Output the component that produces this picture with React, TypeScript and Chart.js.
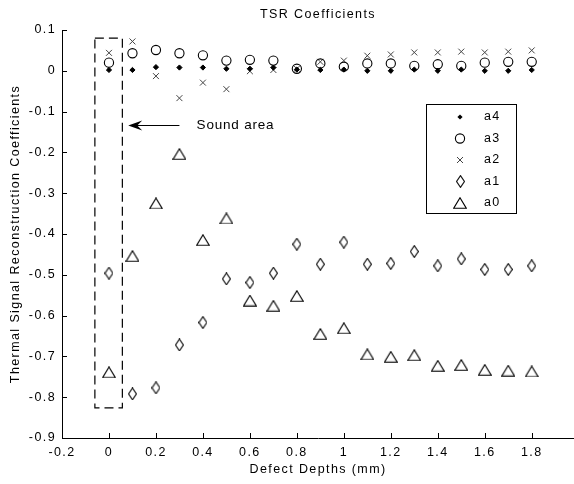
import React, { useEffect, useRef } from 'react';
import { Chart, registerables } from 'chart.js';

Chart.register(...registerables);

// ---------------- data ----------------
const depths = [0, 0.1, 0.2, 0.3, 0.4, 0.5, 0.6, 0.7, 0.8, 0.9, 1.0, 1.1, 1.2, 1.3, 1.4, 1.5, 1.6, 1.7, 1.8];
const a4 = [0.002, 0.002, 0.009, 0.008, 0.008, 0.005, 0.005, 0.008, 0.003, 0.002, 0.003, 0.0, 0.0, 0.003, 0.0, 0.003, 0.0, 0.0, 0.002];
const a3 = [0.02, 0.043, 0.051, 0.043, 0.038, 0.025, 0.027, 0.025, 0.005, 0.018, 0.01, 0.018, 0.018, 0.012, 0.016, 0.012, 0.02, 0.022, 0.022];
const a2 = [0.044, 0.072, -0.013, -0.067, -0.029, -0.045, -0.001, 0.002, 0.005, 0.022, 0.025, 0.037, 0.04, 0.045, 0.045, 0.047, 0.045, 0.047, 0.05];
const a1 = [-0.496, -0.792, -0.777, -0.672, -0.617, -0.51, -0.519, -0.496, -0.425, -0.474, -0.42, -0.474, -0.472, -0.443, -0.478, -0.461, -0.487, -0.487, -0.478];
const a0 = [-0.739, -0.454, -0.325, -0.204, -0.415, -0.362, -0.563, -0.576, -0.552, -0.645, -0.631, -0.695, -0.701, -0.697, -0.723, -0.721, -0.733, -0.735, -0.737];
const seriesLabels = ['a4', 'a3', 'a2', 'a1', 'a0'];
const xTickValues = [-0.2, 0, 0.2, 0.4, 0.6, 0.8, 1.0, 1.2, 1.4, 1.6, 1.8];
const yTickValues = [0.1, 0, -0.1, -0.2, -0.3, -0.4, -0.5, -0.6, -0.7, -0.8, -0.9];
const xRange = [-0.2, 1.98];
const yRange = [-0.9, 0.1];
const chartTitle = 'TSR Coefficients';
const xTitle = 'Defect Depths (mm)';
const yTitle = 'Thermal Signal Reconstruction Coefficients';
// annotation (data coordinates)
const soundBoxX = [-0.06, 0.057];
const soundBoxY = [0.08, -0.826];
const arrowX = [0.30, 0.082];
const arrowY = -0.133;
const noteText = 'Sound area';
const noteX = 0.373;

const FONT = '"Liberation Sans", Arial, Helvetica, sans-serif';
const FS = 12.5;
const SPACING = '1.4px';

function makeMarker(w: number, h: number, draw: (c: CanvasRenderingContext2D) => void) {
  const c = document.createElement('canvas');
  c.width = w;
  c.height = h;
  const ctx = c.getContext('2d')!;
  draw(ctx);
  return c;
}

const tallDiamond = makeMarker(9, 13, (c) => {
  c.strokeStyle = '#1a1a1a';
  c.lineWidth = 1.15;
  c.beginPath();
  c.moveTo(4.5, 0.6);
  c.lineTo(8.4, 6.5);
  c.lineTo(4.5, 12.4);
  c.lineTo(0.6, 6.5);
  c.closePath();
  c.stroke();
});

const triMarker = makeMarker(14, 12, (c) => {
  c.strokeStyle = '#000';
  c.lineWidth = 1.15;
  c.beginPath();
  c.moveTo(7, 0.8);
  c.lineTo(13.3, 11.2);
  c.lineTo(0.7, 11.2);
  c.closePath();
  c.stroke();
});

const spacingPlugin = {
  id: 'spacing',
  beforeUpdate(chart: any) {
    chart.ctx.letterSpacing = SPACING;
  },
  beforeDraw(chart: any) {
    chart.ctx.letterSpacing = SPACING;
  },
};

const annotationPlugin = {
  id: 'annot',
  afterDraw(chart: any) {
    const { ctx, chartArea } = chart;
    const xs = chart.scales.x;
    const ys = chart.scales.y;
    ctx.save();
    ctx.strokeStyle = '#000';
    ctx.fillStyle = '#000';
    ctx.lineWidth = 1;
    // inward ticks
    ctx.beginPath();
    xTickValues.forEach((v) => {
      const px = Math.round(xs.getPixelForValue(v)) + 0.5;
      ctx.moveTo(px, chartArea.bottom);
      ctx.lineTo(px, chartArea.bottom - 5);
    });
    yTickValues.forEach((v) => {
      const py = Math.round(ys.getPixelForValue(v)) + 0.5;
      ctx.moveTo(chartArea.left, py);
      ctx.lineTo(chartArea.left + 5, py);
    });
    ctx.stroke();

    // dashed "sound area" box
    const bx0 = xs.getPixelForValue(soundBoxX[0]);
    const bx1 = xs.getPixelForValue(soundBoxX[1]);
    const by0 = ys.getPixelForValue(soundBoxY[0]);
    const by1 = ys.getPixelForValue(soundBoxY[1]);
    ctx.setLineDash([9, 5]);
    ctx.lineWidth = 1.2;
    ctx.strokeRect(bx0, by0, bx1 - bx0, by1 - by0);
    ctx.setLineDash([]);

    // arrow
    const ax0 = xs.getPixelForValue(arrowX[0]);
    const ax1 = xs.getPixelForValue(arrowX[1]);
    const ay = Math.round(ys.getPixelForValue(arrowY)) + 0.5;
    ctx.lineWidth = 1;
    ctx.beginPath();
    ctx.moveTo(ax0, ay);
    ctx.lineTo(ax1 + 6, ay);
    ctx.stroke();
    ctx.beginPath();
    ctx.moveTo(ax1, ay);
    ctx.lineTo(ax1 + 14, ay - 5);
    ctx.lineTo(ax1 + 9, ay);
    ctx.lineTo(ax1 + 14, ay + 5);
    ctx.closePath();
    ctx.fill();

    // note text
    ctx.save();
    ctx.letterSpacing = '0.8px';
    ctx.font = `13.5px ${FONT}`;
    ctx.textAlign = 'left';
    ctx.textBaseline = 'middle';
    ctx.fillText(noteText, xs.getPixelForValue(noteX), ay);
    ctx.restore();

    // legend
    const boxW = 90;
    const boxH = 109;
    const left = chartArea.left + 364;
    const top = chartArea.top + 74;
    ctx.lineWidth = 1;
    ctx.strokeStyle = '#000';
    ctx.strokeRect(Math.round(left) + 0.5, Math.round(top) + 0.5, boxW, boxH);
    ctx.font = `${FS}px ${FONT}`;
    ctx.textAlign = 'left';
    ctx.textBaseline = 'middle';
    seriesLabels.forEach((lab, i) => {
      const cy = top + 13 + i * 21.5;
      const mx = left + 34;
      ctx.save();
      if (i === 0) {
        ctx.fillStyle = '#000';
        ctx.beginPath();
        ctx.moveTo(mx, cy - 2.6);
        ctx.lineTo(mx + 2.6, cy);
        ctx.lineTo(mx, cy + 2.6);
        ctx.lineTo(mx - 2.6, cy);
        ctx.closePath();
        ctx.fill();
      } else if (i === 1) {
        ctx.strokeStyle = '#000';
        ctx.lineWidth = 1.1;
        ctx.beginPath();
        ctx.arc(mx, cy, 4.6, 0, Math.PI * 2);
        ctx.stroke();
      } else if (i === 2) {
        ctx.strokeStyle = '#444';
        ctx.beginPath();
        ctx.moveTo(mx - 3, cy - 3);
        ctx.lineTo(mx + 3, cy + 3);
        ctx.moveTo(mx + 3, cy - 3);
        ctx.lineTo(mx - 3, cy + 3);
        ctx.stroke();
      } else if (i === 3) {
        ctx.drawImage(tallDiamond, Math.round(mx - tallDiamond.width / 2), Math.round(cy - tallDiamond.height / 2));
      } else {
        ctx.drawImage(triMarker, Math.round(mx - triMarker.width / 2), Math.round(cy - triMarker.height / 2));
      }
      ctx.restore();
      ctx.fillStyle = '#000';
      ctx.fillText(lab, left + 58, cy);
    });
    ctx.restore();
  },
};

function pts(ys: number[]) {
  return depths.map((x, i) => ({ x, y: ys[i] }));
}

const fmt = (v: any) => String(Math.round(Number(v) * 10) / 10);

export default function App() {
  const ref = useRef<HTMLCanvasElement | null>(null);
  useEffect(() => {
    if (!ref.current) return;
    const chart = new Chart(ref.current, {
      type: 'scatter',
      data: {
        datasets: [
          { label: seriesLabels[0], data: pts(a4), pointStyle: 'rectRot', pointRadius: 2.6, backgroundColor: '#000', borderColor: '#000', borderWidth: 1 },
          { label: seriesLabels[1], data: pts(a3), pointStyle: 'circle', pointRadius: 4.6, backgroundColor: 'rgba(0,0,0,0)', borderColor: '#000', borderWidth: 1.1 },
          { label: seriesLabels[2], data: pts(a2), pointStyle: 'crossRot', pointRadius: 4.2, backgroundColor: '#444', borderColor: '#444', borderWidth: 1 },
          { label: seriesLabels[3], data: pts(a1), pointStyle: tallDiamond as any, pointRadius: 6, borderColor: '#222' },
          { label: seriesLabels[4], data: pts(a0), pointStyle: triMarker as any, pointRadius: 7, borderColor: '#000' },
        ] as any,
      },
      options: {
        animation: false,
        responsive: false,
        devicePixelRatio: 1,
        clip: false as any,
        layout: { autoPadding: false, padding: { left: 0, right: 0, top: 0, bottom: 0 } },
        plugins: {
          legend: { display: false },
          tooltip: { enabled: false },
          title: {
            display: true,
            text: chartTitle,
            fullSize: false,
            color: '#000',
            font: { family: FONT, size: FS, weight: 'normal', lineHeight: 1.2 },
            padding: { top: 7.5, bottom: 7.5 },
          },
        },
        scales: {
          x: {
            type: 'linear',
            min: xRange[0],
            max: xRange[1],
            afterBuildTicks: (s: any) => {
              s.ticks = xTickValues.map((v) => ({ value: v }));
            },
            afterFit: (s: any) => {
              s.height = 46;
              s.paddingLeft = 0;
              s.paddingRight = 0;
            },
            grid: { display: false, drawTicks: false },
            border: { display: true, color: '#000', width: 1 },
            ticks: {
              color: '#000',
              padding: 7,
              maxRotation: 0,
              autoSkip: false,
              font: { family: FONT, size: FS, lineHeight: 1.2 },
              callback: fmt,
            },
            title: {
              display: true,
              text: xTitle,
              color: '#000',
              font: { family: FONT, size: FS, lineHeight: 1.2 },
              padding: { top: 0, bottom: 6.5 },
            },
          },
          y: {
            type: 'linear',
            min: yRange[0],
            max: yRange[1],
            afterBuildTicks: (s: any) => {
              s.ticks = yTickValues.map((v) => ({ value: v }));
            },
            afterFit: (s: any) => {
              s.width = 62;
            },
            grid: { display: false, drawTicks: false },
            border: { display: true, color: '#000', width: 1 },
            ticks: {
              color: '#000',
              padding: 6,
              autoSkip: false,
              font: { family: FONT, size: FS, lineHeight: 1.2 },
              callback: fmt,
            },
            title: {
              display: true,
              text: yTitle,
              color: '#000',
              font: { family: FONT, size: FS, lineHeight: 1.2 },
              padding: { top: 8.5, bottom: 0 },
            },
          },
        },
      } as any,
      plugins: [spacingPlugin, annotationPlugin],
    });
    return () => chart.destroy();
  }, []);
  return (
    <div style={{ position: 'absolute', left: 0, top: 0, width: 574, height: 484, background: '#fff' }}>
      <canvas ref={ref} width={574} height={484} style={{ display: 'block', width: 574, height: 484 }} />
    </div>
  );
}
